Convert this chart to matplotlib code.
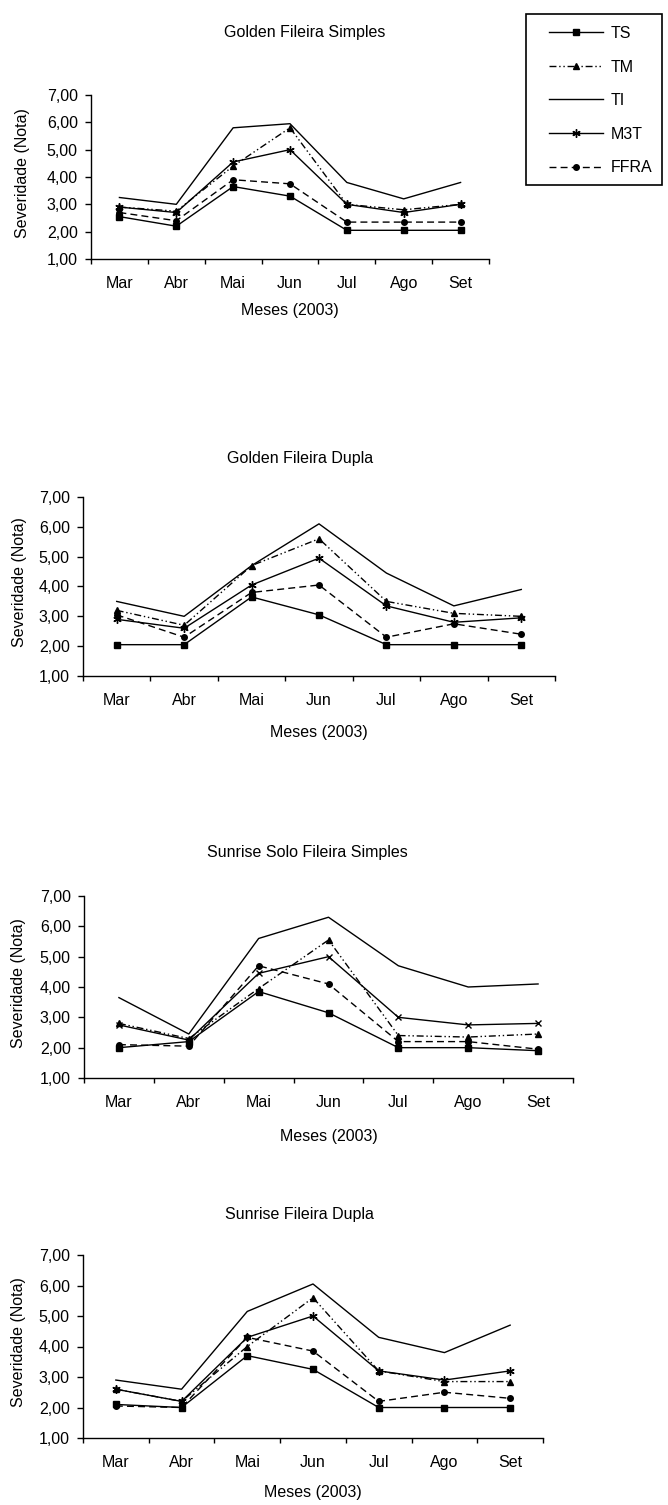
import matplotlib
matplotlib.use("Agg")
import matplotlib.pyplot as plt
from matplotlib.patches import Rectangle
from matplotlib.ticker import FuncFormatter, FixedLocator

plt.rcParams["font.family"] = ["Liberation Sans", "DejaVu Sans"]

months = ["Mar", "Abr", "Mai", "Jun", "Jul", "Ago", "Set"]
series_names = ["TS", "TM", "TI", "M3T", "FFRA"]
titles = ["Golden Fileira Simples", "Golden Fileira Dupla",
          "Sunrise Solo Fileira Simples", "Sunrise Fileira Dupla"]

# Golden Fileira Simples
gfs_ts = [2.55, 2.2, 3.65, 3.3, 2.05, 2.05, 2.05]
gfs_tm = [2.9, 2.75, 4.4, 5.8, 3.0, 2.8, 3.0]
gfs_ti = [3.25, 3.0, 5.8, 5.95, 3.8, 3.2, 3.8]
gfs_m3t = [2.9, 2.7, 4.55, 5.0, 3.0, 2.7, 3.0]
gfs_ffra = [2.7, 2.4, 3.9, 3.75, 2.35, 2.35, 2.35]

# Golden Fileira Dupla
gfd_ts = [2.05, 2.05, 3.65, 3.05, 2.05, 2.05, 2.05]
gfd_tm = [3.2, 2.7, 4.7, 5.6, 3.5, 3.1, 3.0]
gfd_ti = [3.5, 3.0, 4.7, 6.1, 4.45, 3.35, 3.9]
gfd_m3t = [2.9, 2.6, 4.05, 4.95, 3.35, 2.8, 2.95]
gfd_ffra = [3.05, 2.3, 3.8, 4.05, 2.3, 2.75, 2.4]

# Sunrise Solo Fileira Simples
ssfs_ts = [2.0, 2.2, 3.85, 3.15, 2.0, 2.0, 1.9]
ssfs_tm = [2.8, 2.3, 3.95, 5.55, 2.4, 2.35, 2.45]
ssfs_ti = [3.65, 2.45, 5.6, 6.3, 4.7, 4.0, 4.1]
ssfs_m3t = [2.75, 2.25, 4.45, 5.0, 3.0, 2.75, 2.8]
ssfs_ffra = [2.1, 2.05, 4.7, 4.1, 2.2, 2.2, 1.95]

# Sunrise Fileira Dupla
sfd_ts = [2.1, 2.0, 3.7, 3.25, 2.0, 2.0, 2.0]
sfd_tm = [2.6, 2.2, 4.0, 5.6, 3.2, 2.85, 2.85]
sfd_ti = [2.9, 2.6, 5.15, 6.05, 4.3, 3.8, 4.7]
sfd_m3t = [2.6, 2.2, 4.3, 5.0, 3.2, 2.9, 3.2]
sfd_ffra = [2.05, 2.0, 4.3, 3.85, 2.2, 2.5, 2.3]

panels = [
    [gfs_ts, gfs_tm, gfs_ti, gfs_m3t, gfs_ffra],
    [gfd_ts, gfd_tm, gfd_ti, gfd_m3t, gfd_ffra],
    [ssfs_ts, ssfs_tm, ssfs_ti, ssfs_m3t, ssfs_ffra],
    [sfd_ts, sfd_tm, sfd_ti, sfd_m3t, sfd_ffra],
]

# pixel layout: left, right, top, bottom of each plot area
W, H = 668, 1505
boxes = [(91, 489, 95, 259), (83, 555, 497, 676),
         (84, 573, 896, 1078), (83, 543, 1255, 1438)]
title_pos = [(305, 33), (300, 459), (307, 852), (299, 1215)]
xlabel_y = [311, 733, 1136, 1493]
ylabel_x = [23, 20, 19, 19]

styles = [
    dict(ls="-", marker="s", ms=4.5),
    dict(ls=(0, (5, 2, 1, 2, 1, 2)), marker="^", ms=5),
    dict(ls="-", marker=None, ms=0),
    dict(ls="-", marker=(6, 2, 0), ms=6, mew=1.0),
    dict(ls=(0, (5, 3)), marker="o", ms=4),
]

fig = plt.figure(figsize=(W / 100, H / 100), dpi=100)
fmt = FuncFormatter(lambda v, p: f"{v:.2f}".replace(".", ","))
x = list(range(len(months)))
fs = 11.5

for i, (l, r, t, b) in enumerate(boxes):
    ax = fig.add_axes([l / W, 1 - b / H, (r - l) / W, (b - t) / H])
    for j, name in enumerate(series_names):
        st = dict(styles[j])
        if j == 3 and i == 2:
            st["marker"] = "x"
            st["ms"] = 5
        ax.plot(x, panels[i][j], color="black", lw=1.0, label=name, **st)
    ax.set_xlim(-0.5, 6.5)
    ax.set_ylim(1, 7)
    ax.yaxis.set_major_locator(FixedLocator([1, 2, 3, 4, 5, 6, 7]))
    ax.yaxis.set_major_formatter(fmt)
    ax.set_xticks(x)
    ax.set_xticklabels(months)
    ax.set_xticks([k - 0.5 for k in range(8)], minor=True)
    ax.tick_params(axis="x", which="major", length=0, pad=12, labelsize=fs)
    ax.tick_params(axis="x", which="minor", length=3.5, width=1)
    ax.tick_params(axis="y", length=4.5, width=1, pad=5, labelsize=fs)
    for s in ["top", "right"]:
        ax.spines[s].set_visible(False)
    ax.spines["left"].set_linewidth(1)
    ax.spines["bottom"].set_linewidth(1)
    fig.text(title_pos[i][0] / W, 1 - title_pos[i][1] / H, titles[i],
             ha="center", va="center", fontsize=fs)
    fig.text((l + r) / 2 / W, 1 - xlabel_y[i] / H, "Meses (2003)",
             ha="center", va="center", fontsize=fs)
    fig.text(ylabel_x[i] / W, 1 - ((t + b) / 2 - 4) / H, "Severidade (Nota)",
             ha="center", va="center", rotation=90, fontsize=fs)
    if i == 0:
        handles, labels = ax.get_legend_handles_labels()

# legend frame and entries
fig.patches.append(Rectangle((526 / W, 1 - 185 / H), 136 / W, 171 / H,
                             transform=fig.transFigure, fill=False,
                             edgecolor="black", lw=1.2))
fig.legend(handles, labels, loc="upper left",
           bbox_to_anchor=(549 / W, 1 - 26 / H), borderaxespad=0,
           borderpad=0, frameon=False, fontsize=fs, handlelength=3.4,
           labelspacing=1.16, handletextpad=0.45)

fig.savefig("out.png", dpi=100, facecolor="white")
